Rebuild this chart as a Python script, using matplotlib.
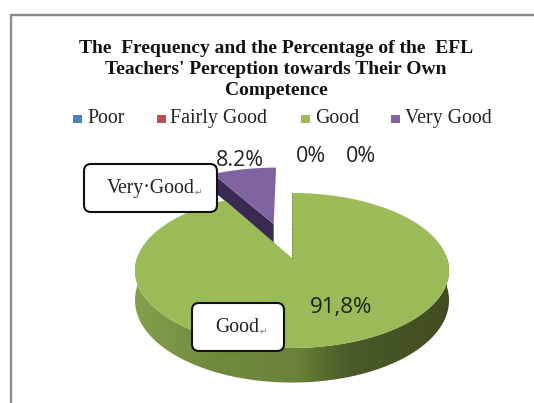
import numpy as np
import matplotlib
matplotlib.use("Agg")
import matplotlib.pyplot as plt
from matplotlib.colors import LinearSegmentedColormap
from matplotlib.patches import FancyBboxPatch, PathPatch, Rectangle
from matplotlib.path import Path

categories = ["Poor", "Fairly Good", "Good", "Very Good"]
values = [0, 0, 91.8, 8.2]
colors = ["#4f81bd", "#c0504d", "#9bbb59", "#8064a2"]
title = "The  Frequency and the Percentage of the  EFL\nTeachers' Perception towards Their Own\nCompetence"
value_labels = ["0%", "0%", "91,8%", "8.2%"]

SERIF = "Liberation Serif"
SANS = "Open Sans"

W, H = 534, 403
fig = plt.figure(figsize=(W / 100, H / 100), dpi=100)
ax = fig.add_axes([0, 0, 1, 1])
ax.set_xlim(0, W)
ax.set_ylim(H, 0)
ax.axis("off")

# chart frame, only top and left are visible in the crop
ax.plot([10.5, 10.5, W], [H, 14.5, 14.5], color="#8c8c8c", lw=1.7, solid_joinstyle="miter")

ax.text(276, 69.5, title, ha="center", va="center", family=SERIF, weight="bold",
        fontsize=14, linespacing=1.27, color="#111111")

# legend
leg_x = [73, 157, 301, 391]
for i, cat in enumerate(categories):
    ax.add_patch(Rectangle((leg_x[i], 114.5), 9, 8.5, color=colors[i], lw=0))
    ax.text(leg_x[i] + (14 if i != 1 else 13), 118.5, cat, family=SERIF, fontsize=14.3,
            va="center", color="#222222")


# 3d look of the pie: tilted disc with a bit of perspective
CX, CY = 292, 258
A, B, K, D = 155, 0.161, 75.5, 29


def project(x, y, z=0.0):
    s = 1 + B * y
    return CX + A * x / s, CY - (K * y - D * z) / s


def sector(a0, a1, e=0.0):
    mid = np.radians((a0 + a1) / 2)
    ex, ey = e * np.cos(mid), e * np.sin(mid)
    t = np.radians(np.linspace(a0, a1, 200))
    return ex, ey, ex + np.cos(t), ey + np.sin(t)


# slices go counter clockwise from 12 o'clock, very good first, then good
a_split = 90 + values[3] * 3.6

# purple slice
ex, ey, xs, ys = sector(90, a_split, 0.5)
ax0, ay0 = project(ex, ey)
bx0, by0 = project(ex, ey, 0.72)
px, py = project(xs, ys)
ax.fill([px[-1], ax0, bx0, px[-1] + 4], [py[-1], ay0, by0, py[-1] + 20],
        color="#3a2a52", lw=0, zorder=2)
ax.fill(np.r_[ax0, px], np.r_[ay0, py], color=colors[3], lw=0, zorder=3)

# green slice side wall with gradient
t = np.radians(np.linspace(180, 360, 300))
gx, gy = np.cos(t), np.sin(t)
tx, ty = project(gx, gy)
bx, by = project(gx, gy, 1.0)
verts = np.r_[np.c_[tx, ty], np.c_[bx, by][::-1], [[tx[0], ty[0]]]]
wall = PathPatch(Path(verts), fc="none", lw=0)
ax.add_patch(wall)
cmap = LinearSegmentedColormap.from_list("wall", [
    (0.0, "#84a04c"), (0.25, "#6f8a3d"), (0.5, "#6c843a"), (0.68, "#4a5b28"),
    (1.0, "#3f4c20")])
im = ax.imshow(np.linspace(0, 1, 256)[None, :], cmap=cmap, aspect="auto",
               extent=[tx.min(), tx.max(), by.max(), ty.min()], zorder=2)
im.set_clip_path(wall)
ax.set_xlim(0, W)
ax.set_ylim(H, 0)

# green slice top
ex, ey, xs, ys = sector(a_split, 450)
gx0, gy0 = project(0, 0)
qx, qy = project(xs, ys)
ax.fill(np.r_[gx0, qx], np.r_[gy0, qy], color=colors[2], lw=0, zorder=4)
ax.plot([gx0, qx[-1]], [gy0, qy[-1]], color="#5f6b48", lw=0.7, ls=":", zorder=5)

# value labels
ax.text(240, 160, value_labels[3], family=SANS, fontsize=15.5, ha="center", va="center", color="#222222")
ax.text(311, 157, value_labels[0], family=SANS, fontsize=15.5, ha="center", va="center", color="#222222")
ax.text(361, 157, value_labels[1], family=SANS, fontsize=15.5, ha="center", va="center", color="#222222")
ax.text(341, 307, value_labels[2], family=SANS, fontsize=16, ha="center", va="center", color="#1c2410", zorder=6)


# the two text boxes pasted over the chart
def callout(x0, y0, x1, y1, s, tx_, rx):
    ax.add_patch(FancyBboxPatch((x0 + 6, y0 + 6), x1 - x0 - 12, y1 - y0 - 12,
                                boxstyle="round,pad=6,rounding_size=7", fc="white",
                                ec="#111111", lw=1.5, zorder=7))
    ax.text(tx_, (y0 + y1) / 2 + 1, s, family=SERIF, fontsize=14.2, ha="left", va="center",
            color="#222222", zorder=8)
    ax.text(rx, (y0 + y1) / 2 + 4, "\u21b5", family="DejaVu Sans", fontsize=6.5, ha="left", va="center",
            color="#777777", zorder=8)


callout(84, 164, 217, 212, "Very\u00b7Good", 107, 195)
callout(192, 303, 284, 351, "Good", 215, 260)

fig.savefig("out.png", dpi=100)
